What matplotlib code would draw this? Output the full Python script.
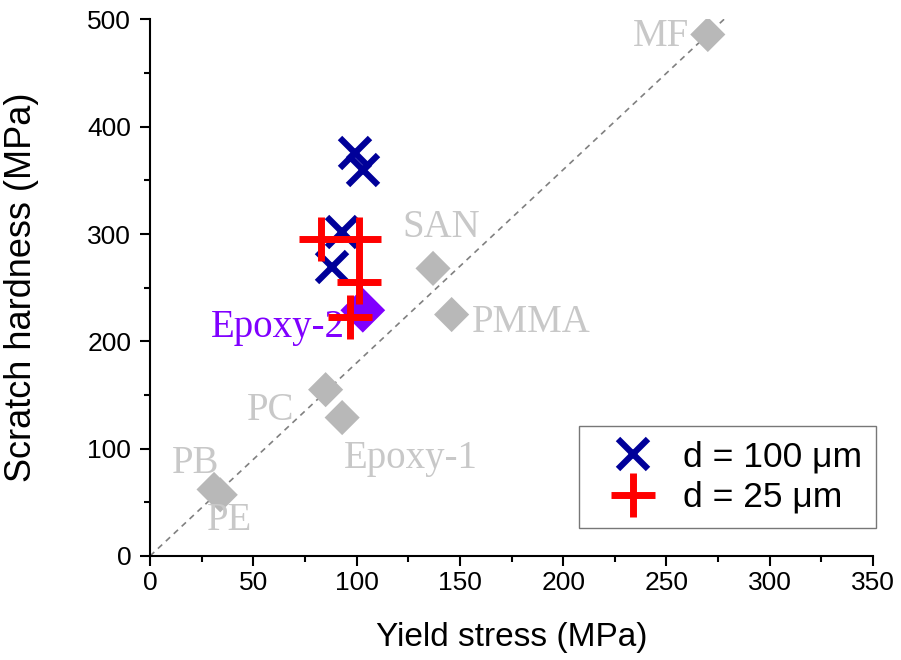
import matplotlib.pyplot as plt
import numpy as np
from matplotlib.ticker import MultipleLocator

plt.rcParams['font.family'] = ['Liberation Sans', 'DejaVu Sans']

# reference polymers (gray diamonds)
ref_names = ["MF", "SAN", "PMMA", "PC", "Epoxy-1", "PB", "PE"]
ref_x = [270, 137, 146, 85, 93, 31, 34]
ref_y = [486, 268, 225, 155, 129, 62, 57]

# Epoxy-2 (purple diamond)
ep2_x = [103]
ep2_y = [229]

# d = 100 um
x100 = [99, 103, 93, 88]
y100 = [376, 360, 302, 269]

# d = 25 um
x25 = [83, 101, 101, 97]
y25 = [295, 295, 255, 223]

# label positions (data coords) and alignment
lab_pos = {
    "MF": (261, 484, "right"),
    "SAN": (122, 306, "left"),
    "PMMA": (156, 218, "left"),
    "PC": (47, 136, "left"),
    "Epoxy-1": (94, 91, "left"),
    "PB": (10.5, 86, "left"),
    "PE": (27.5, 33, "left"),
}

fig = plt.figure(figsize=(9.01, 6.60), dpi=100)
ax = fig.add_axes([0.1665, 0.1576, 0.8025, 0.8129])

gray = "#b8b8b8"
txt_gray = "#c8c8c8"

# y = 1.8 x guide line
lx = np.array([0, 281])
ax.plot(lx, 1.8 * lx, ls=(0, (3.5, 3)), color="#808080", lw=1.2, zorder=1)

ax.scatter(ref_x, ref_y, marker="D", s=320, color=gray, edgecolors="none", zorder=2)
ax.scatter(ep2_x, ep2_y, marker="D", s=520, color="#8000ff", edgecolors="none", zorder=2)

for name, (tx, ty, ha) in lab_pos.items():
    ax.text(tx, ty, name, ha=ha, va="center", fontsize=28, color=txt_gray,
            family="Liberation Serif")
ax.text(94.4, 212.5, "Epoxy-2", ha="right", va="center", fontsize=28, color="#8000ff",
        family="Liberation Serif")

ax.plot(x100, y100, ls="none", marker="x", ms=21, mew=4.5, color="#000099",
        label="d = 100 μm", zorder=3)
ax.plot(x25, y25, ls="none", marker="+", ms=32, mew=5, color="#ff0000",
        label="d = 25 μm", zorder=4)

ax.set_xlim(0, 350)
ax.set_ylim(0, 500)
ax.xaxis.set_major_locator(MultipleLocator(50))
ax.xaxis.set_minor_locator(MultipleLocator(25))
ax.yaxis.set_major_locator(MultipleLocator(100))
ax.yaxis.set_minor_locator(MultipleLocator(50))
ax.tick_params(which="major", direction="out", length=7.5, width=1.5, labelsize=19)
ax.tick_params(which="minor", direction="out", length=4, width=1.5)
ax.tick_params(axis="x", which="major", pad=3)
ax.tick_params(axis="y", which="major", pad=6)
ax.spines["top"].set_visible(False)
ax.spines["right"].set_visible(False)
ax.spines["left"].set_linewidth(1.5)
ax.spines["bottom"].set_linewidth(1.5)

ax.set_xlabel("Yield stress (MPa)", fontsize=24)
ax.set_ylabel("Scratch hardness (MPa)", fontsize=26)
ax.xaxis.set_label_coords(0.5, -0.123)
ax.yaxis.set_label_coords(-0.153, 0.5)

leg = ax.legend(loc="lower right", bbox_to_anchor=(1.004, 0.052), fontsize=25.5,
                fancybox=False, edgecolor="#555555", handlelength=2.26,
                handletextpad=0.28, borderpad=0.4, labelspacing=0.22,
                borderaxespad=0, markerscale=1.0)
leg.get_frame().set_linewidth(1.0)

fig.savefig("out.png", dpi=100)
